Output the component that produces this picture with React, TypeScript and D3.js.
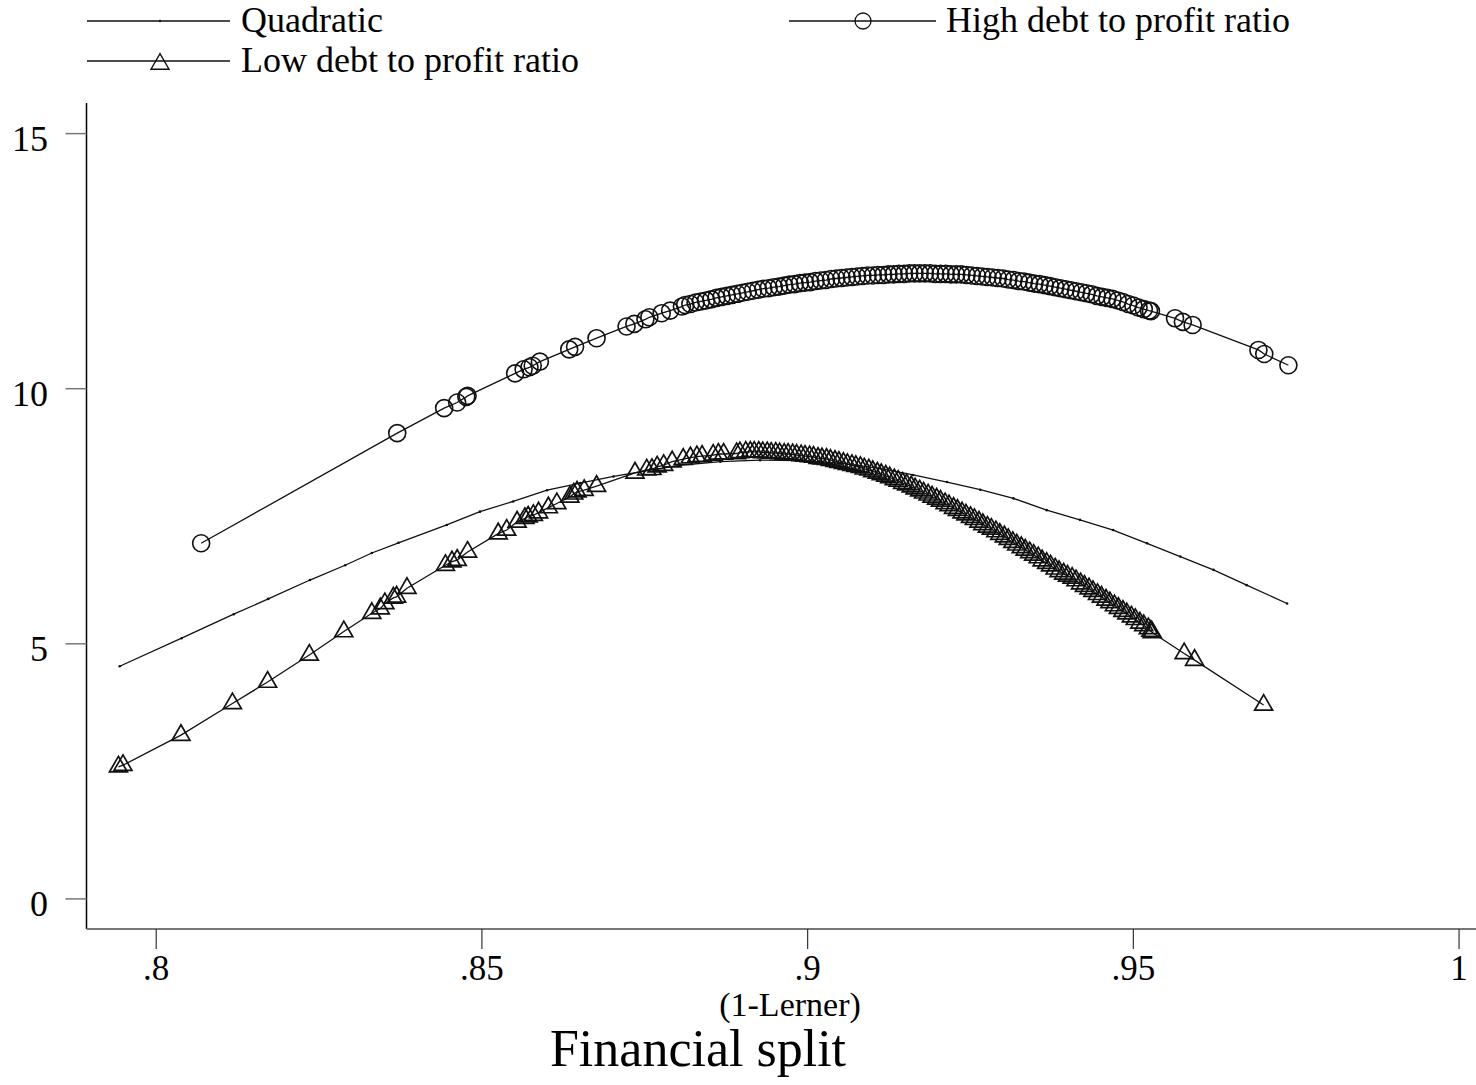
import React from "react";
import * as d3 from "d3";

// ---- data ----
const quadX = [0.7944, 0.8039, 0.8119, 0.8172, 0.8236, 0.829, 0.8331, 0.8372, 0.8446, 0.8497, 0.8548, 0.86, 0.8651, 0.8702, 0.8743, 0.8804, 0.8866, 0.8927, 0.8989, 0.905, 0.9111, 0.9162, 0.9214, 0.9265, 0.9316, 0.9367, 0.9418, 0.9469, 0.9521, 0.9572, 0.9623, 0.9674, 0.9736];
const quadY = [4.56, 5.11, 5.58, 5.88, 6.25, 6.54, 6.78, 6.98, 7.33, 7.59, 7.79, 8.01, 8.15, 8.28, 8.37, 8.5, 8.57, 8.6, 8.59, 8.54, 8.44, 8.31, 8.17, 8.02, 7.85, 7.62, 7.43, 7.23, 6.97, 6.71, 6.45, 6.15, 5.79];

const lowX = [
  0.7942, 0.7949, 0.8038, 0.8117, 0.8171, 0.8235, 0.8288, 0.8331, 0.8344, 0.8351, 0.8364, 0.8369, 0.8385,
  0.8444, 0.8454, 0.8462, 0.8478, 0.8525, 0.8538, 0.8554, 0.8566, 0.8571, 0.8579, 0.8587, 0.8602, 0.8615,
  0.8635, 0.8641, 0.8646, 0.8657, 0.8676, 0.8735, 0.8753, 0.8761, 0.8769, 0.8779, 0.8792, 0.8809, 0.882,
  0.883, 0.8838, 0.8855, 0.8863, 0.8871, 0.8891, 0.8896,
  0.8905, 0.8912, 0.8918, 0.8925, 0.8931, 0.8938, 0.8944, 0.8951, 0.8957, 0.8964, 0.897, 0.8977, 0.8983,
  0.899, 0.8996, 0.9003, 0.9009, 0.9016, 0.9022, 0.9029, 0.9035, 0.9042, 0.9048, 0.9055, 0.9061, 0.9068,
  0.9074, 0.9081, 0.9087, 0.9094, 0.91, 0.9107, 0.9113, 0.912, 0.9126, 0.9133, 0.9139, 0.9146, 0.9152,
  0.9159, 0.9165, 0.9172, 0.9178, 0.9185, 0.9191, 0.9198, 0.9204, 0.9211, 0.9217, 0.9224, 0.923, 0.9237,
  0.9243, 0.925, 0.9256, 0.9263, 0.9269, 0.9276, 0.9282, 0.9289, 0.9295, 0.9302, 0.9308, 0.9315, 0.9321,
  0.9328, 0.9334, 0.9341, 0.9347, 0.9354, 0.936, 0.9367, 0.9373, 0.938, 0.9386, 0.9393, 0.9399, 0.9406,
  0.9412, 0.9419, 0.9425, 0.9432, 0.9438, 0.9445, 0.9451, 0.9458, 0.9464, 0.9471, 0.9477, 0.9484, 0.949,
  0.9497, 0.9503, 0.951, 0.9516, 0.9523, 0.9527, 0.9529,
  0.9578, 0.9594, 0.97,
];
const lowY = [
  2.59, 2.62, 3.21, 3.83, 4.25, 4.78, 5.24, 5.6, 5.69, 5.79, 5.9, 5.92, 6.09,
  6.54, 6.61, 6.64, 6.8, 7.16, 7.23, 7.39, 7.46, 7.49, 7.52, 7.57, 7.67, 7.75,
  7.88, 7.94, 7.98, 8.01, 8.09, 8.35, 8.41, 8.42, 8.47, 8.5, 8.57, 8.62, 8.65,
  8.67, 8.68, 8.7, 8.72, 8.72, 8.73, 8.75,
  8.76, 8.76, 8.76, 8.76, 8.75, 8.75, 8.74, 8.74, 8.73, 8.72, 8.72, 8.71, 8.7,
  8.69, 8.68, 8.67, 8.66, 8.64, 8.63, 8.62, 8.6, 8.58, 8.56, 8.54, 8.52, 8.5,
  8.48, 8.46, 8.43, 8.41, 8.38, 8.35, 8.32, 8.29, 8.26, 8.22, 8.19, 8.15, 8.12,
  8.08, 8.04, 8.0, 7.96, 7.92, 7.88, 7.84, 7.8, 7.75, 7.71, 7.66, 7.62, 7.57,
  7.53, 7.48, 7.44, 7.39, 7.34, 7.29, 7.25, 7.2, 7.15, 7.1, 7.05, 6.99, 6.94,
  6.89, 6.84, 6.79, 6.74, 6.69, 6.63, 6.58, 6.53, 6.47, 6.42, 6.37, 6.33, 6.29,
  6.24, 6.18, 6.13, 6.08, 6.03, 5.97, 5.92, 5.86, 5.81, 5.75, 5.7, 5.64, 5.59,
  5.53, 5.48, 5.41, 5.36, 5.3, 5.25, 5.22,
  4.81, 4.68, 3.8,
];

const highX = [
  0.8069, 0.837, 0.8442, 0.8462, 0.8476, 0.8478, 0.8551, 0.8564, 0.8573, 0.8578, 0.8589, 0.8634, 0.8643,
  0.8676, 0.8722, 0.8734, 0.8751, 0.8757, 0.8776, 0.8789, 0.8807,
  0.8812, 0.882, 0.8828, 0.8836, 0.8844, 0.8852, 0.886, 0.8868, 0.8876, 0.8884, 0.8892, 0.89, 0.8908,
  0.8916, 0.8924, 0.8932, 0.894, 0.8948, 0.8956, 0.8964, 0.8972, 0.898, 0.8988, 0.8996, 0.9004, 0.9012,
  0.902, 0.9028, 0.9036, 0.9044, 0.9052, 0.906, 0.9068, 0.9076, 0.9084, 0.9092, 0.91, 0.9108, 0.9116,
  0.9124, 0.9132, 0.914, 0.9148, 0.9156, 0.9164, 0.9172, 0.918, 0.9188, 0.9196, 0.9204, 0.9212, 0.922,
  0.9228, 0.9236, 0.9244, 0.9252, 0.926, 0.9268, 0.9276, 0.9284, 0.9292, 0.93, 0.9308, 0.9316, 0.9324,
  0.9332, 0.934, 0.9348, 0.9356, 0.9364, 0.9372, 0.938, 0.9388, 0.9396, 0.9404, 0.9412, 0.942, 0.9428,
  0.9436, 0.9444, 0.9452, 0.946, 0.9468, 0.9476, 0.9484, 0.9492, 0.95, 0.9508, 0.9516, 0.9524, 0.9527,
  0.9564, 0.9576, 0.9591, 0.9692, 0.9701, 0.9738,
];
const highY = [
  6.97, 9.13, 9.62, 9.73, 9.84, 9.86, 10.3, 10.38, 10.42, 10.45, 10.53, 10.77, 10.82,
  10.99, 11.22, 11.27, 11.36, 11.4, 11.48, 11.53, 11.61,
  11.64, 11.66, 11.69, 11.71, 11.73, 11.75, 11.78, 11.8, 11.82, 11.84, 11.86, 11.88, 11.9,
  11.92, 11.94, 11.96, 11.97, 11.99, 12.0, 12.02, 12.04, 12.05, 12.07, 12.08, 12.09, 12.11,
  12.12, 12.13, 12.15, 12.16, 12.17, 12.18, 12.19, 12.2, 12.21, 12.22, 12.22, 12.23, 12.23,
  12.24, 12.24, 12.25, 12.25, 12.26, 12.26, 12.26, 12.26, 12.26, 12.25, 12.25, 12.25, 12.24,
  12.24, 12.24, 12.23, 12.22, 12.21, 12.2, 12.19, 12.18, 12.17, 12.16, 12.14, 12.13, 12.11,
  12.1, 12.08, 12.06, 12.05, 12.03, 12.01, 11.99, 11.97, 11.95, 11.93, 11.91, 11.89, 11.87,
  11.85, 11.82, 11.8, 11.78, 11.76, 11.73, 11.7, 11.66, 11.63, 11.59, 11.56, 11.53, 11.52,
  11.38, 11.31, 11.25, 10.76, 10.68, 10.46,
];

const xTicks = [0.8, 0.85, 0.9, 0.95, 1];
const xTickLabels = [".8", ".85", ".9", ".95", "1"];
const yTicks = [0, 5, 10, 15];
const yTickLabels = ["0", "5", "10", "15"];

const legendLabels = ["Quadratic", "High debt to profit ratio", "Low debt to profit ratio"];
const xTitle = "(1-Lerner)";
const chartTitle = "Financial split";

// ---- layout ----
const W = 1476;
const H = 1085;
const plotLeft = 86.5;
const plotRight = 1476;
const plotTop = 103;
const plotBottom = 929;
const FONT = "'Liberation Serif', 'Times New Roman', Times, serif";
const INK = "#111";

export default function App() {
  const x = d3.scaleLinear().domain([0.7893, 1.0026]).range([plotLeft, plotRight]);
  const y = d3.scaleLinear().domain([-0.59, 15.6]).range([plotBottom, plotTop]);

  const toPts = (xs: number[], ys: number[]) => xs.map((v, i) => [v, ys[i]] as [number, number]);
  const quad = toPts(quadX, quadY);
  const low = toPts(lowX, lowY);
  const high = toPts(highX, highY);

  const line = d3
    .line<[number, number]>()
    .x((d) => x(d[0]))
    .y((d) => y(d[1]));

  const tri = d3.symbol().type(d3.symbolTriangle).size(140)() as string;

  const legRow1 = 21;
  const legRow2 = 61;

  return (
    <svg
      width={W}
      height={H}
      style={{ position: "absolute", left: 0, top: 0, background: "#fff" }}
      fontFamily={FONT}
    >
      <rect x={0} y={0} width={W} height={H} fill="#fff" />

      {/* legend */}
      <g>
        <line x1={87} x2={230} y1={legRow1} y2={legRow1} stroke={INK} strokeWidth={1.3} />
        <circle cx={160} cy={legRow1} r={1.2} fill={INK} />
        <text x={241} y={legRow1 + 11} fontSize={36} fill="#000">
          {legendLabels[0]}
        </text>

        <line x1={789} x2={936} y1={legRow1} y2={legRow1} stroke={INK} strokeWidth={1.3} />
        <circle cx={863} cy={legRow1} r={8} fill="none" stroke={INK} strokeWidth={1.3} />
        <text x={946} y={legRow1 + 11} fontSize={36} fill="#000">
          {legendLabels[1]}
        </text>

        <line x1={87} x2={230} y1={legRow2} y2={legRow2} stroke={INK} strokeWidth={1.3} />
        <path d={tri} transform={`translate(160,${legRow2 + 3})`} fill="none" stroke={INK} strokeWidth={1.4} />
        <text x={241} y={legRow2 + 11} fontSize={36} fill="#000">
          {legendLabels[2]}
        </text>
      </g>

      {/* axes */}
      <line x1={plotLeft} x2={plotLeft} y1={plotTop} y2={plotBottom} stroke="#000" strokeWidth={1.5} />
      <line x1={plotLeft} x2={plotRight} y1={plotBottom} y2={plotBottom} stroke="#777" strokeWidth={2} />

      {yTicks.map((t, i) => (
        <g key={"y" + t}>
          <line x1={plotLeft - 21} x2={plotLeft} y1={y(t)} y2={y(t)} stroke="#777" strokeWidth={1.5} />
          <text x={48} y={y(t) + 17} fontSize={36} textAnchor="end" fill="#000">
            {yTickLabels[i]}
          </text>
        </g>
      ))}
      {xTicks.map((t, i) => (
        <g key={"x" + t}>
          <line x1={x(t)} x2={x(t)} y1={plotBottom} y2={plotBottom + 20} stroke="#333" strokeWidth={1.2} />
          <text x={x(t)} y={980} fontSize={35} textAnchor="middle" fill="#000">
            {xTickLabels[i]}
          </text>
        </g>
      ))}

      <text x={790} y={1016} fontSize={34} textAnchor="middle" fill="#000">
        {xTitle}
      </text>
      <text x={698} y={1066} fontSize={52} textAnchor="middle" fill="#000">
        {chartTitle}
      </text>

      {/* series lines */}
      <path d={line(quad) || ""} fill="none" stroke={INK} strokeWidth={1.3} />
      <path d={line(high) || ""} fill="none" stroke={INK} strokeWidth={1.3} />
      <path d={line(low) || ""} fill="none" stroke={INK} strokeWidth={1.3} />

      {/* markers */}
      {quad.map((d, i) => (
        <circle key={"q" + i} cx={x(d[0])} cy={y(d[1])} r={1.3} fill={INK} />
      ))}
      {high.map((d, i) => (
        <circle key={"h" + i} cx={x(d[0])} cy={y(d[1])} r={8.5} fill="none" stroke={INK} strokeWidth={1.6} />
      ))}
      {low.map((d, i) => (
        <path
          key={"l" + i}
          d={tri}
          transform={`translate(${x(d[0])},${y(d[1])})`}
          fill="none"
          stroke={INK}
          strokeWidth={1.7}
        />
      ))}
    </svg>
  );
}
